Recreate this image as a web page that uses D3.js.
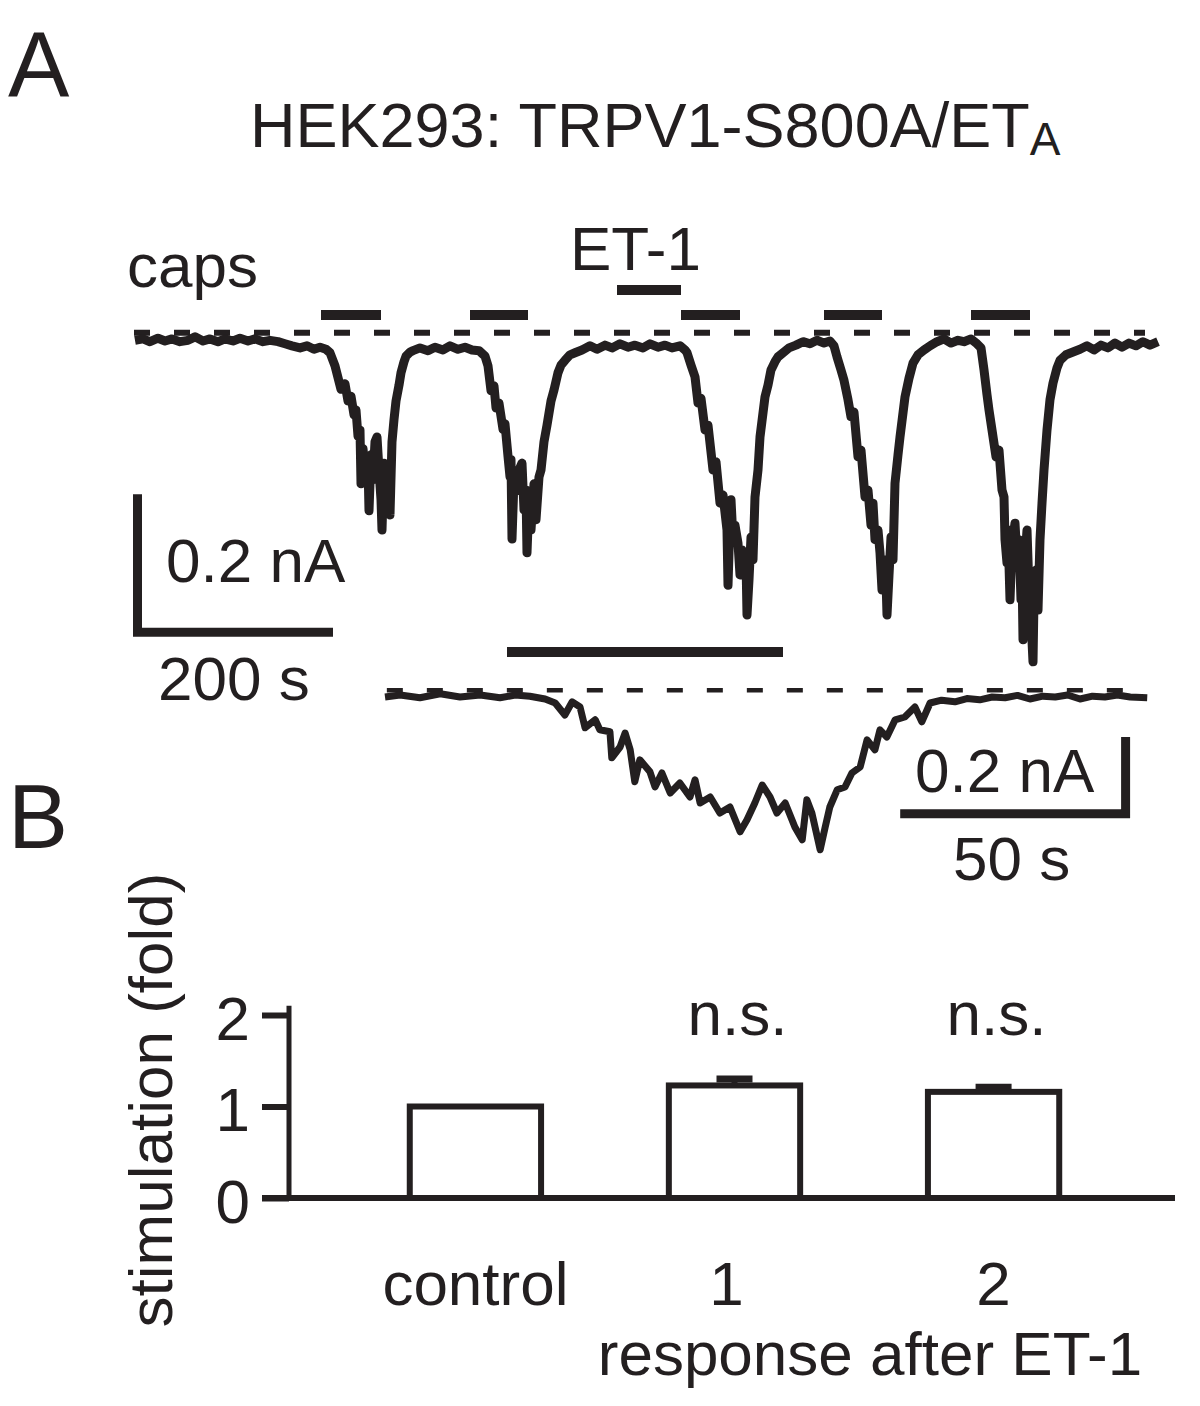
<!DOCTYPE html>
<html>
<head>
<meta charset="utf-8">
<script src="https://cdn.jsdelivr.net/npm/d3@7"></script>
<style>
  html, body { margin: 0; padding: 0; background: #fff; }
  svg { display: block; font-family: "Liberation Sans", Arial, sans-serif; }
</style>
</head>
<body>
<div id="fig"></div>
<script>
// main recording: [time (s), current (pA)]
const mainTrace = [
  [2,1],[10,3],[17,-1],[25,4],[32,0],[39,3],[47,-1],[55,1],[62,6],[70,0],[77,3],[85,-1],[92,3],[100,0],
  [107,4],[115,0],[122,3],[130,-1],[137,1],[145,-1],[152,-4],[159,-7],[167,-10],[174,-7],[181,-12],[187,-9],[193,-12],
  [197,-17],[202,-36],[208,-70],[212,-62],[215,-87],[218,-80],[221,-107],[223,-100],[225,-138],[227,-129],
  [228,-207],[230,-156],[232,-187],[235,-177],[236,-246],[238,-165],[240,-201],[242,-146],[244,-139],[246,-187],
  [248,-230],[249,-274],[251,-177],[253,-238],[255,-216],[256,-197],[257,-252],[259,-146],[261,-114],[263,-87],
  [266,-64],[268,-46],[271,-30],[273,-22],[277,-16],[280,-14],
  [287,-10],[295,-14],[302,-9],[310,-13],[317,-7],[325,-12],[332,-9],[339,-13],[346,-14],[352,-22],
  [355,-36],[358,-72],[361,-65],[363,-97],[366,-90],[370,-128],[372,-120],[375,-167],[377,-197],[378,-172],
  [379,-287],[381,-201],[384,-217],[386,-187],[389,-177],[391,-245],[393,-216],[394,-307],[396,-230],[398,-274],
  [401,-207],[403,-259],[406,-197],[408,-187],[411,-146],[414,-122],[418,-87],[421,-71],[425,-46],[428,-35],
  [432,-28],[437,-20],[442,-17],
  [449,-13],[457,-7],[464,-12],[472,-6],[479,-10],[487,-4],[495,-9],[502,-6],[510,-10],[517,-4],[525,-9],
  [532,-6],[539,-10],[547,-7],[552,-13],
  [554,-17],[558,-35],[562,-52],[565,-90],[568,-83],[572,-129],[575,-122],[580,-187],[583,-175],[587,-235],
  [590,-223],[594,-274],[595,-354],[597,-259],[598,-230],[600,-288],[602,-267],[605,-293],[607,-339],[609,-303],
  [611,-332],[613,-317],[614,-397],[616,-346],[618,-284],[620,-317],[622,-226],[625,-187],[627,-139],[632,-81],
  [635,-64],[638,-42],[642,-30],[645,-23],[651,-16],[656,-10],
  [663,-6],[670,-1],[677,-4],[684,1],[691,-3],[697,0],[701,-7],
  [704,-23],[708,-42],[711,-57],[715,-85],[718,-110],[721,-103],[725,-168],[728,-158],[732,-226],[735,-216],
  [738,-267],[740,-235],[742,-288],[745,-274],[747,-307],[749,-361],[751,-317],[753,-346],[754,-397],[756,-339],
  [758,-284],[760,-317],[762,-206],[765,-165],[767,-139],[772,-81],[776,-54],[780,-32],[785,-20],[791,-13],[797,-7],
  [804,-1],[811,3],[818,-3],[825,1],[831,-1],[838,3],[844,-4],[848,-10],
  [851,-42],[854,-78],[856,-100],[859,-129],[863,-168],[866,-158],[869,-216],[871,-226],[872,-288],[874,-322],
  [875,-274],[877,-375],[879,-296],[882,-264],[884,-317],[886,-288],[888,-375],[889,-332],[890,-433],[892,-317],
  [894,-274],[896,-361],[898,-404],[900,-465],[901,-375],[903,-332],[905,-390],[907,-288],[909,-235],[911,-187],
  [914,-129],[917,-85],[920,-61],[924,-39],[927,-28],[933,-20],[940,-16],
  [947,-12],[954,-7],[961,-13],[968,-6],[975,-10],[982,-3],[989,-9],[996,-3],[1003,-7],[1010,-1],[1017,-6],[1025,-1]
];

// expanded response: [time (s), current (pA)]
const insetTrace = [
  [0,0],[3.3,5],[7.6,-2],[12,8],[16.3,0],[20.7,5],[25,-2],[28.3,5],[31.5,2],[34.8,-5],[37,-15],[39.1,-45],
  [40.7,-12],[42.4,-25],[43.5,-77],[45.7,-57],[46.7,-82],[48.9,-87],[49.3,-152],[51.1,-125],[52.2,-90],[53.3,-132],
  [54.3,-212],[55.4,-157],[57.6,-187],[58.7,-225],[60.2,-190],[62,-240],[64.1,-215],[66.3,-250],[67.4,-207],
  [68.5,-265],[70.7,-250],[72.8,-290],[75,-275],[77.2,-337],[78.7,-307],[80.4,-265],[82,-220],[83.7,-250],
  [85.2,-290],[87,-265],[89.1,-325],[90.7,-357],[91.7,-257],[92.8,-290],[94.6,-382],[95.7,-325],[96.7,-275],
  [98.3,-232],[100,-225],[101.5,-190],[103.3,-175],[104.8,-107],[106.5,-132],[107.6,-82],[109.1,-100],[110.9,-57],
  [113,-50],[115.2,-25],[116.7,-62],[118.5,-15],[121,-8],[123.9,-12],[126.5,-4],[129.3,-7],[132,0],[134.8,-2],
  [137.5,4],[140.2,-5],[143,2],[145.7,0],[148.4,5],[151.1,-5],[153.8,2],[156.5,0],[159.2,5],[162,0],[165.7,-2]
];

const capsPulses = [[188, 248], [337, 395], [548, 607], [691, 749], [838, 897]];
const et1Pulse = [484, 548];
const expandedWindow = [374, 650];
const zeroLevel = 12;        // pA, dashed reference line, main trace
const insetZeroLevel = 17;   // pA, dashed reference line, inset

const categories = ["control", "1", "2"];
const stimMean = [1.0, 1.23, 1.16];
const stimSem = [0, 0.07, 0.05];
const sigLabels = ["", "n.s.", "n.s."];
const yTicks = [0, 1, 2];

const ink = "#231f20";
const W = 1200, H = 1406;

const svg = d3.select("#fig").append("svg")
    .attr("width", W).attr("height", H);
svg.append("rect").attr("width", W).attr("height", H).attr("fill", "#fff");

function txt(x, y, s, size, anchor) {
    return svg.append("text")
        .attr("x", x).attr("y", y)
        .attr("font-size", size)
        .attr("fill", ink)
        .attr("text-anchor", anchor || "start")
        .text(s);
}

// ---------- panel A ----------
txt(8, 97, "A", 92);
const title = txt(250, 147, "HEK293: TRPV1-S800A/ET", 63);
title.append("tspan").attr("font-size", 46).attr("dy", 8).text("A");

// main trace scales: 1 px per s, 0.69 px per pA
const x = d3.scaleLinear().domain([0, 1030]).range([133, 1163]);
const y = d3.scaleLinear().domain([0, -500]).range([341, 686]);

txt(127, 287, "caps", 62);
txt(570, 270, "ET-1", 62);

svg.selectAll(".caps")
    .data(capsPulses)
    .enter().append("rect")
    .attr("x", d => x(d[0]))
    .attr("width", d => x(d[1]) - x(d[0]))
    .attr("y", 310).attr("height", 10)
    .attr("fill", ink);

svg.append("rect")
    .attr("x", x(et1Pulse[0])).attr("width", x(et1Pulse[1]) - x(et1Pulse[0]))
    .attr("y", 285).attr("height", 10)
    .attr("fill", ink);

svg.append("line")
    .attr("x1", x(1)).attr("x2", x(1012))
    .attr("y1", y(zeroLevel)).attr("y2", y(zeroLevel))
    .attr("stroke", ink).attr("stroke-width", 6)
    .attr("stroke-dasharray", "16,24");

const line = d3.line().x(d => x(d[0])).y(d => y(d[1]));
svg.append("path")
    .datum(mainTrace)
    .attr("d", line)
    .attr("fill", "none")
    .attr("stroke", ink)
    .attr("stroke-width", 9)
    .attr("stroke-linejoin", "round");

// scale bar 0.2 nA / 200 s
svg.append("path")
    .attr("d", `M${x(0) + 4.5},${y(-222)} V${y(-422)} H${x(200)}`)
    .attr("fill", "none").attr("stroke", ink).attr("stroke-width", 9);
txt(166, 582, "0.2 nA", 62);
txt(158, 700, "200 s", 62);

// window that is expanded below
svg.append("rect")
    .attr("x", x(expandedWindow[0])).attr("width", x(expandedWindow[1]) - x(expandedWindow[0]))
    .attr("y", 647).attr("height", 10)
    .attr("fill", ink);

// inset: 4.6 px per s, 0.4 px per pA
const ix = d3.scaleLinear().domain([0, 170]).range([385, 385 + 170 * 4.6]);
const iy = d3.scaleLinear().domain([0, -500]).range([697, 897]);

svg.append("line")
    .attr("x1", ix(0.4)).attr("x2", ix(161))
    .attr("y1", iy(insetZeroLevel)).attr("y2", iy(insetZeroLevel))
    .attr("stroke", ink).attr("stroke-width", 4.5)
    .attr("stroke-dasharray", "16,24");

const iline = d3.line().x(d => ix(d[0])).y(d => iy(d[1]));
svg.append("path")
    .datum(insetTrace)
    .attr("d", iline)
    .attr("fill", "none")
    .attr("stroke", ink)
    .attr("stroke-width", 7)
    .attr("stroke-linejoin", "round");

svg.append("path")
    .attr("d", `M${ix(112)},${iy(-292)} H${ix(161)} V${iy(-100)}`)
    .attr("fill", "none").attr("stroke", ink).attr("stroke-width", 9);
txt(915, 792, "0.2 nA", 62);
txt(953, 880, "50 s", 62);

// ---------- panel B ----------
txt(8, 848, "B", 90);

const by = d3.scaleLinear().domain([0, 2]).range([1198, 1015]);
const bx = d3.scaleBand().domain(categories).range([285, 1184]).padding(0.47);

const yAxis = svg.append("g")
    .attr("transform", "translate(289,0)")
    .call(d3.axisLeft(by).tickValues(yTicks).tickFormat(d3.format("d")).tickSize(27).tickSizeOuter(0).tickPadding(12));
yAxis.select(".domain").remove();
yAxis.selectAll(".tick line").attr("stroke", ink).attr("stroke-width", 6);
yAxis.selectAll(".tick text")
    .attr("fill", ink)
    .attr("font-size", 62)
    .attr("font-family", "'Liberation Sans', Arial, sans-serif")
    .attr("dy", "0.39em");

svg.append("line")
    .attr("x1", 289).attr("x2", 289)
    .attr("y1", by(0)).attr("y2", by(2.1))
    .attr("stroke", ink).attr("stroke-width", 5);

const bars = categories.map((c, i) => ({ c, m: stimMean[i], e: stimSem[i], s: sigLabels[i] }));

svg.selectAll(".bar")
    .data(bars)
    .enter().append("rect")
    .attr("x", d => bx(d.c) + 3)
    .attr("width", bx.bandwidth() - 6)
    .attr("y", d => by(d.m))
    .attr("height", d => by(0) - by(d.m))
    .attr("fill", "#fff")
    .attr("stroke", ink)
    .attr("stroke-width", 6);

const err = bars.filter(d => d.e > 0);
svg.selectAll(".err")
    .data(err)
    .enter().append("line")
    .attr("x1", d => bx(d.c) + bx.bandwidth() / 2)
    .attr("x2", d => bx(d.c) + bx.bandwidth() / 2)
    .attr("y1", d => by(d.m))
    .attr("y2", d => by(d.m + d.e))
    .attr("stroke", ink).attr("stroke-width", 6);
svg.selectAll(".cap")
    .data(err)
    .enter().append("line")
    .attr("x1", d => bx(d.c) + bx.bandwidth() / 2 - 18)
    .attr("x2", d => bx(d.c) + bx.bandwidth() / 2 + 18)
    .attr("y1", d => by(d.m + d.e))
    .attr("y2", d => by(d.m + d.e))
    .attr("stroke", ink).attr("stroke-width", 7);

svg.append("line")
    .attr("x1", 262).attr("x2", 1175)
    .attr("y1", by(0)).attr("y2", by(0))
    .attr("stroke", ink).attr("stroke-width", 6);

bars.forEach(d => {
    const cx = bx(d.c) + bx.bandwidth() / 2;
    if (d.s) txt(cx + 3, 1035, d.s, 62, "middle");
    txt(cx - (d.c === "1" ? 8 : 0), 1305, d.c, 62, "middle");
});
txt(870, 1375, "response after ET-1", 62, "middle");

svg.append("text")
    .attr("transform", "translate(172,1100) rotate(-90)")
    .attr("text-anchor", "middle")
    .attr("font-size", 62)
    .attr("fill", ink)
    .text("stimulation (fold)");
</script>
</body>
</html>
